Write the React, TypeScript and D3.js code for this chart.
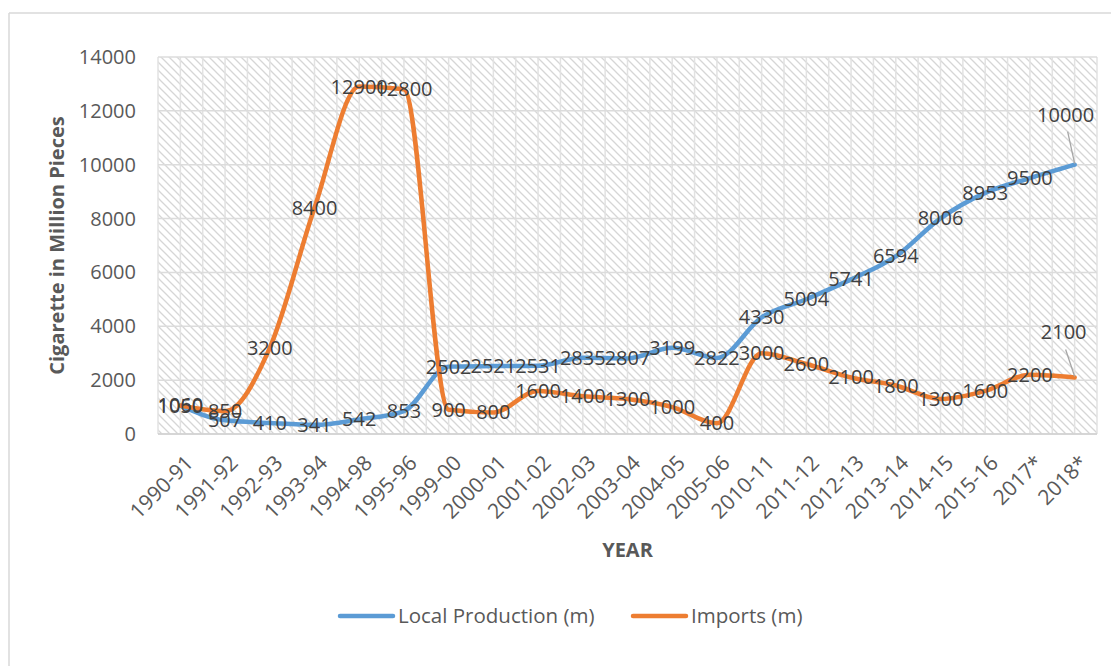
import React from "react";
import * as d3 from "d3";

// Years on the category axis
const categories = [
  "1990-91", "1991-92", "1992-93", "1993-94", "1994-98", "1995-96", "1999-00",
  "2000-01", "2001-02", "2002-03", "2003-04", "2004-05", "2005-06", "2010-11",
  "2011-12", "2012-13", "2013-14", "2014-15", "2015-16", "2017*", "2018*",
];

// Cigarettes in million pieces
const localProduction = [
  1050, 507, 410, 341, 542, 853, 2502, 2521, 2531, 2835, 2807, 3199, 2822,
  4330, 5004, 5741, 6594, 8006, 8953, 9500, 10000,
];
const imports = [
  1060, 850, 3200, 8400, 12900, 12800, 900, 800, 1600, 1400, 1300, 1000, 400,
  3000, 2600, 2100, 1800, 1300, 1600, 2200, 2100,
];

const yTicks = [0, 2000, 4000, 6000, 8000, 10000, 12000, 14000];

const seriesNames = ["Local Production (m)", "Imports (m)"];
const seriesColors = ["#5B9BD5", "#ED7D31"];

const W = 1111;
const H = 666;
const plot = { left: 158, right: 1097, top: 57, bottom: 434 };
const FONT = "'Open Sans', 'Segoe UI', sans-serif";

// The last label of each series is pulled up and tied back to its point
const callouts = [
  { dx: -9, dy: -50 },
  { dx: -11, dy: -45 },
];

export default function App() {
  const x = d3
    .scalePoint<string>()
    .domain(categories)
    .range([plot.left, plot.right])
    .padding(0.5);
  const y = d3.scaleLinear().domain([0, 14000]).range([plot.bottom, plot.top]);

  const line = d3
    .line<number>()
    .x((_, i) => x(categories[i]) as number)
    .y((v) => y(v))
    .curve(d3.curveMonotoneX);

  const series = [localProduction, imports];
  const step = x.step() / 2;
  const vLines = d3.range(plot.left, plot.right + 0.5, step);

  return (
    <svg
      width={W}
      height={H}
      style={{ position: "absolute", left: 0, top: 0, background: "#fff" }}
      fontFamily={FONT}
    >
      <defs>
        <pattern id="hatch" width={8} height={8} patternUnits="userSpaceOnUse">
          <rect width={8} height={8} fill="#fff" />
          <path d="M-2,-2 L10,10 M-2,6 L2,10 M6,-2 L10,2" stroke="#D6D6D6" strokeWidth={1.3} />
        </pattern>
      </defs>

      {/* chart frame */}
      <line x1={9} y1={13} x2={W} y2={13} stroke="#D9D9D9" strokeWidth={1.5} />
      <line x1={9} y1={13} x2={9} y2={H} stroke="#D9D9D9" strokeWidth={1.5} />

      {/* plot area */}
      <rect
        x={plot.left}
        y={plot.top}
        width={plot.right - plot.left}
        height={plot.bottom - plot.top}
        fill="url(#hatch)"
      />
      {vLines.map((vx, i) => (
        <line key={"v" + i} x1={vx} x2={vx} y1={plot.top} y2={plot.bottom} stroke="#E2E2E2" strokeWidth={1.5} />
      ))}
      {yTicks.map((t) => (
        <line key={"h" + t} x1={plot.left} x2={plot.right} y1={y(t)} y2={y(t)} stroke="#DCDCDC" strokeWidth={1.5} />
      ))}
      <line x1={plot.left} x2={plot.right} y1={plot.bottom} y2={plot.bottom} stroke="#D0D0D0" strokeWidth={1.5} />

      {/* y axis labels */}
      {yTicks.map((t) => (
        <text key={"yt" + t} x={136} y={y(t)} dy="0.35em" textAnchor="end" fontSize={20} fill="#595959">
          {t}
        </text>
      ))}
      <text
        transform={`translate(57,${(plot.top + plot.bottom) / 2}) rotate(-90)`}
        textAnchor="middle"
        dy="0.35em"
        fontSize={20}
        fontWeight="bold"
        fill="#595959"
      >
        Cigarette in Million Pieces
      </text>

      {/* x axis labels */}
      {categories.map((c) => {
        const cx = (x(c) as number) + 9;
        return (
          <text
            key={"xt" + c}
            transform={`translate(${cx},${plot.bottom + 25}) rotate(-45)`}
            textAnchor="end"
            dy="0.35em"
            fontSize={21}
            fill="#595959"
          >
            {c}
          </text>
        );
      })}
      <text x={(plot.left + plot.right) / 2} y={550} textAnchor="middle" dy="0.35em" fontSize={20} fontWeight="bold" fill="#595959">
        YEAR
      </text>

      {/* lines */}
      {series.map((s, k) => (
        <path
          key={"l" + k}
          d={line(s) || ""}
          fill="none"
          stroke={seriesColors[k]}
          strokeWidth={4.5}
          strokeLinecap="round"
          strokeLinejoin="round"
        />
      ))}

      {/* data labels */}
      {series.map((s, k) =>
        s.map((v, i) => {
          const px = x(categories[i]) as number;
          const py = y(v);
          const last = i === s.length - 1;
          const off = last ? callouts[k] : { dx: 0, dy: 0 };
          const lx = px + off.dx;
          const ly = py + off.dy;
          return (
            <g key={`d${k}-${i}`}>
              {last && (
                <line x1={px} y1={py - 1} x2={lx + 2} y2={ly + 17} stroke="#A6A6A6" strokeWidth={1.3} />
              )}
              <text x={lx} y={ly} dy="0.35em" textAnchor="middle" fontSize={20} fill="#404040">
                {v}
              </text>
            </g>
          );
        })
      )}

      {/* legend */}
      {seriesNames.map((name, k) => {
        const lx0 = k === 0 ? 340 : 633;
        return (
          <g key={"lg" + k}>
            <line x1={lx0} x2={lx0 + 53} y1={616} y2={616} stroke={seriesColors[k]} strokeWidth={4.5} strokeLinecap="round" />
            <text x={lx0 + 58} y={616} dy="0.35em" fontSize={20.5} fill="#595959">
              {name}
            </text>
          </g>
        );
      })}
    </svg>
  );
}
